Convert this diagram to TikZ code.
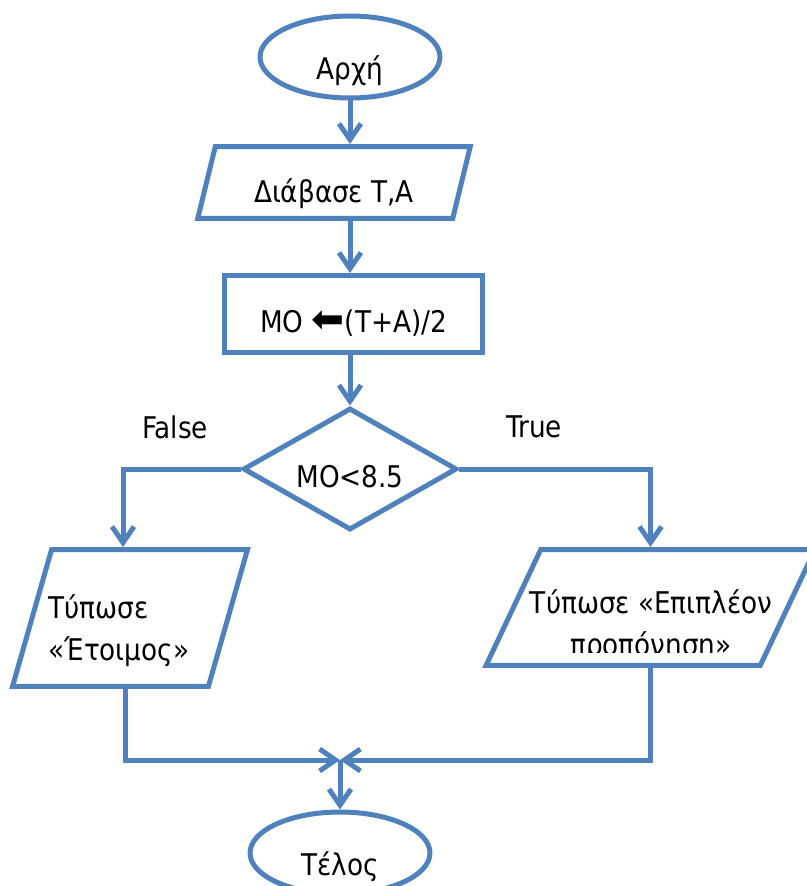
\documentclass[tikz,border=0pt]{standalone}
\usepackage{fontspec}
\setmainfont{DejaVu Sans}[FakeStretch=0.88]
\usetikzlibrary{shapes.geometric, arrows.meta}
\definecolor{FlowBlue}{HTML}{4F81BD}

\tikzset{
  chart/.style={draw=FlowBlue, line width=0.1cm, fill=white, inner sep=0pt,
    font=\fontsize{17}{24}\selectfont},
  terminal/.style={chart, ellipse, minimum width=3.6cm, minimum height=1.64cm,
    text height=0.9cm, text depth=0pt},
  iobox/.style={chart, trapezium, trapezium left angle=75, trapezium right angle=105,
    trapezium stretches=true, inner sep=2pt},
  procbox/.style={chart, rectangle, minimum width=5.16cm, minimum height=1.54cm,
    text height=0.72cm, text depth=0pt},
  decbox/.style={chart, diamond, aspect=1.8, minimum width=4.28cm, minimum height=2.44cm,
    text height=0.72cm, text depth=0pt},
  caption/.style={font=\fontsize{17}{24}\selectfont, inner sep=0pt},
  flow/.style={draw=FlowBlue, line width=0.1cm,
    -{Straight Barb[length=0.32cm,width=0.44cm]}}
}

\begin{document}
\begin{tikzpicture}[x=0.02cm, y=-0.02cm]
\useasboundingbox (0,0) rectangle (807,886);

% shapes
\node[terminal] (start) at (350,57) {Αρχή};
\node[iobox, minimum width=5.46cm, minimum height=1.44cm,
      text height=0.78cm, text depth=0pt] (read) at (334,182.5) {Διάβασε Τ,Α};
\node[procbox] (assign) at (353.5,314) {ΜΟ \scalebox{1.5}[1.3]{⬅}(Τ+Α)/2};
\node[decbox] (check) at (350,469) {ΜΟ<8.5};
\node[caption] (lblF) at (175,427) {False};
\node[caption] (lblT) at (534,427) {True};

\node[iobox, trapezium left angle=76, trapezium right angle=104,
      minimum width=4.7cm, minimum height=2.74cm] (outA) at (130,618) {};
\node[caption, align=left] (outAtxt) at (48,631) [anchor=west] {Τύπωσε\\«Έτοιμος»};

\node[iobox, trapezium left angle=76, trapezium right angle=104,
      minimum width=6.58cm, minimum height=2.32cm] (outB) at (650.5,607.5) {};
\begin{scope}
  \clip (483,560) rectangle (818,652);
  \node[caption, align=center] (outBtxt) at (651,625.5) {Τύπωσε «Επιπλέον\\προπόνηση»};
\end{scope}

\node[terminal] (end) at (340,853) {Τέλος};
\coordinate (join) at (340,760);

% connectors
\draw[flow] (start.south) -- (start.south |- read.north);
\draw[flow] (read.south -| start) -- (assign.north -| start);
\draw[flow] (assign.south -| check) -- (check.north);
\draw[flow] (check.west) -| ([xshift=-0.14cm]outA.north);
\draw[flow] (check.east) -| (outB.north);
\draw[flow] ([xshift=-0.1cm]outA.south) |- (join);
\draw[flow] (outB.south) |- (join);
\draw[flow] (join) -- (end.north);
\end{tikzpicture}
\end{document}
